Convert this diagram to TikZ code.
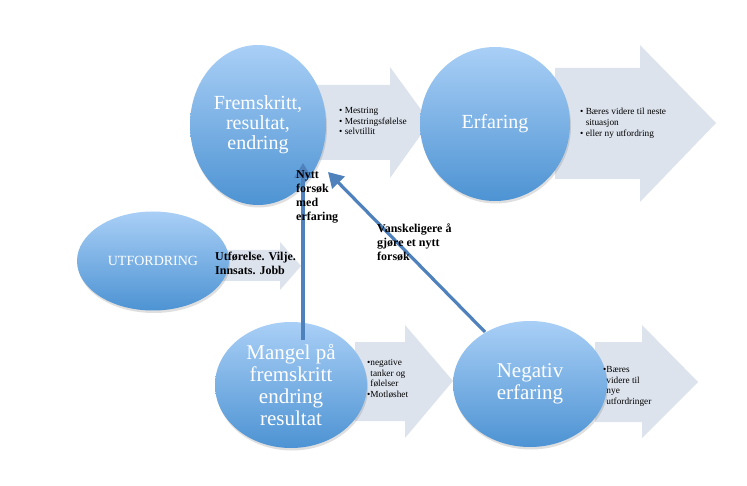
\documentclass[tikz,border=0pt]{standalone}
\usepackage{fontspec}
\setmainfont{Liberation Serif}
\usetikzlibrary{shapes.geometric,arrows.meta,shadows,calc}
\definecolor{bubtop}{HTML}{A9CFF6}
\definecolor{bubbot}{HTML}{4D93D3}
\definecolor{graybody}{HTML}{DCE3ED}
\definecolor{bluearr}{HTML}{4F81BD}
\tikzset{
  bub/.style={ellipse, inner sep=0pt, draw=none, top color=bubtop, bottom color=bubbot,
    text=white, align=center,
    drop shadow={opacity=0.25, shadow xshift=1pt, shadow yshift=-2.5pt}},
  grayarrow/.style={fill=graybody, draw=none},
  bluelink/.style={draw=bluearr, line width=3.2pt, -{Triangle[length=15pt,width=17pt]}},
  lbl/.style={anchor=north west, inner sep=0pt, align=left, font=\bfseries\fontsize{12}{14}\selectfont},
  small/.style={anchor=north west, inner sep=0pt, align=left, font=\fontsize{9.3}{10.8}\selectfont}
}
\begin{document}
\begin{tikzpicture}[x=1pt,y=-1pt]
\useasboundingbox[fill=white] (0,0) rectangle (747,486);
% gray arrows
\fill[grayarrow] (315,85) -- (390,85) -- (390,67) -- (430,122) -- (390,178) -- (390,160) -- (315,160) -- cycle;
\fill[grayarrow] (555,68) -- (640,68) -- (640,45) -- (716,123) -- (640,202) -- (640,179) -- (555,179) -- cycle;
\fill[grayarrow] (220,250) -- (280,250) -- (280,242) -- (301,266) -- (280,290) -- (280,281) -- (220,281) -- cycle;
\fill[grayarrow] (355,342) -- (405,342) -- (405,325) -- (453,381) -- (405,438) -- (405,421) -- (355,421) -- cycle;
\fill[grayarrow] (595,342) -- (642,342) -- (642,325) -- (698,382) -- (642,438) -- (642,422) -- (595,422) -- cycle;
% bubbles
\node[bub, minimum width=136pt, minimum height=160pt, font=\fontsize{20}{20}\selectfont] (frem) at (258,125) {Fremskritt,\\resultat,\\endring};
\node[bub, minimum width=150pt, minimum height=154pt, font=\fontsize{20}{20}\selectfont] (erf) at (495,124) {Erfaring};
\node[bub, minimum width=152pt, minimum height=99pt, font=\fontsize{14}{14}\selectfont] (utf) at (153,261) {UTFORDRING};
\node[bub, minimum width=152pt, minimum height=126pt, font=\fontsize{21}{21.7}\selectfont] (mangel) at (291,385) {Mangel på\\fremskritt\\endring\\resultat};
\node[bub, minimum width=154pt, minimum height=126pt, font=\fontsize{21}{21.7}\selectfont] (neg) at (530,384) {Negativ\\erfaring};
% arrow texts
\node[small] (t1) at (339,107) {• Mestring\\• Mestringsfølelse\\• selvtillit};
\node[small] (t2) at (580,108) {• Bæres videre til neste\\\hphantom{• }situasjon\\• eller ny utfordring};
\node[small] (t3) at (367,359) {•negative\\\hphantom{•}tanker og\\\hphantom{•}følelser\\•Motløshet};
\node[small] (t4) at (603,366) {•Bæres\\\hphantom{•}videre til\\\hphantom{•}nye\\\hphantom{•}utfordringer};
\node[lbl] (u1) at (215,252) {Utførelse. Vilje.\\Innsats. Jobb};
% blue connectors
\coordinate (m1) at (303,340);
\coordinate (f1) at (303,163);
\coordinate (n1) at (485,332);
\coordinate (f2) at (328,172);
\draw[bluelink] (m1) -- (f1);
\draw[bluelink] (n1) -- (f2);
\node[lbl] (l1) at (296,170) {Nytt\\forsøk\\med\\erfaring};
\node[lbl] (l2) at (377,224) {Vanskeligere å\\gjøre et nytt\\forsøk};
\end{tikzpicture}
\end{document}
